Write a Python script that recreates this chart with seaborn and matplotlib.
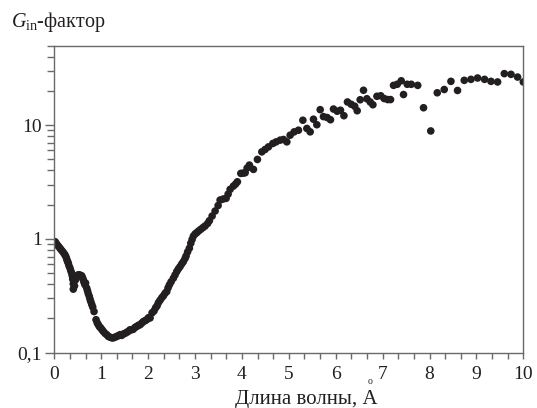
import matplotlib
matplotlib.use("Agg")
import matplotlib.pyplot as plt
import seaborn as sns
import pandas as pd
from matplotlib.ticker import MultipleLocator, LogLocator, FixedLocator, FuncFormatter, NullFormatter

# ---- data ----
wavelength = [
    0.015, 0.036, 0.064, 0.09, 0.122, 0.149, 0.179, 0.207, 0.228, 0.25,
    0.265, 0.282, 0.299, 0.314, 0.335, 0.352, 0.371, 0.384, 0.393, 0.405,
    0.405, 0.431, 0.452, 0.478, 0.506, 0.533, 0.559, 0.585, 0.602, 0.619,
    0.634, 0.655, 0.666, 0.691, 0.708, 0.725, 0.747, 0.762, 0.777, 0.798,
    0.819, 0.847,
    0.89, 0.915, 0.939, 0.964, 0.99, 1.018, 1.045, 1.082, 1.118, 1.152,
    1.188, 1.225, 1.259, 1.295, 1.331, 1.366, 1.402, 1.438, 1.472, 1.508,
    1.545, 1.579, 1.615, 1.651, 1.686, 1.722, 1.758, 1.792, 1.828, 1.865,
    1.899, 1.935, 1.971, 2.006, 2.042, 2.084, 2.127, 2.159, 2.191, 2.219,
    2.255, 2.291, 2.326, 2.362, 2.398, 2.426, 2.454, 2.49, 2.539, 2.575,
    2.611, 2.646, 2.682, 2.718, 2.752, 2.789, 2.81, 2.842, 2.88, 2.91,
    2.938, 2.966, 3.002, 3.038, 3.077, 3.124, 3.173, 3.215, 3.269, 3.307,
    3.365, 3.429, 3.493, 3.535, 3.599, 3.663, 3.706, 3.749, 3.819, 3.866,
    3.904, 3.977, 4.026, 4.069, 4.111, 4.16, 4.246, 4.331, 4.425, 4.495,
    4.566, 4.66, 4.73, 4.815, 4.886, 4.958, 5.029, 5.114, 5.206, 5.30,
    5.385, 5.456, 5.526, 5.598, 5.669, 5.739, 5.818, 5.889, 5.953, 6.032,
    6.102, 6.175, 6.251, 6.33, 6.405, 6.458, 6.522, 6.593, 6.665, 6.736,
    6.793, 6.879, 6.96, 7.034, 7.109, 7.169, 7.233, 7.312, 7.397, 7.446,
    7.525, 7.611, 7.749, 7.873, 8.027, 8.165, 8.314, 8.457, 8.598, 8.741,
    8.884, 9.025, 9.174, 9.311, 9.452, 9.595, 9.738, 9.878, 10.0,
]
gin_factor = [
    0.947, 0.92, 0.886, 0.86, 0.829, 0.80, 0.774, 0.746, 0.724, 0.695,
    0.664, 0.635, 0.612, 0.58, 0.553, 0.524, 0.50, 0.474, 0.443, 0.403,
    0.362, 0.387, 0.437, 0.467, 0.483, 0.483, 0.479, 0.474, 0.455, 0.437,
    0.415, 0.395, 0.41, 0.37, 0.35, 0.33, 0.312, 0.295, 0.282, 0.266,
    0.252, 0.230,
    0.195, 0.183, 0.176, 0.169, 0.165, 0.159, 0.154, 0.148, 0.144, 0.139,
    0.137, 0.135, 0.135, 0.137, 0.139, 0.141, 0.144, 0.142, 0.146, 0.148,
    0.151, 0.154, 0.159, 0.159, 0.161, 0.167, 0.170, 0.174, 0.176, 0.182,
    0.188, 0.191, 0.195, 0.203, 0.202, 0.224, 0.233, 0.248, 0.258, 0.275,
    0.289, 0.304, 0.316, 0.333, 0.345, 0.372, 0.395, 0.42, 0.452, 0.483,
    0.517, 0.546, 0.572, 0.604, 0.632, 0.675, 0.709, 0.769, 0.829, 0.917,
    0.99, 1.06, 1.106, 1.136, 1.175, 1.216, 1.261, 1.30, 1.368, 1.447,
    1.59, 1.761, 1.967, 2.198, 2.243, 2.275, 2.48, 2.73, 2.917, 3.04,
    3.18, 3.77, 3.79, 3.82, 4.2, 4.46, 4.09, 5.0, 5.83, 6.12,
    6.45, 6.91, 7.14, 7.39, 7.49, 7.14, 8.17, 8.74, 9.04, 11.06,
    9.36, 8.74, 11.29, 10.1, 13.7, 11.9, 11.68, 11.17, 13.87, 13.27,
    13.54, 12.12, 16.0, 15.28, 14.68, 13.4, 16.74, 20.28, 17.08, 16.0,
    15.13, 17.96, 18.15, 17.15, 16.8, 16.8, 22.4, 22.9, 24.56, 18.6,
    22.9, 22.9, 22.4, 14.24, 8.9, 19.28, 20.6, 24.3, 20.2, 24.8,
    25.3, 26.0, 25.3, 24.3, 24.0, 28.4, 28.0, 26.5, 24.0,
]
y_major_ticks = [0.1, 1, 10]
y_tick_labels = ["0,1", "1", "10"]
x_major_ticks = [0, 1, 2, 3, 4, 5, 6, 7, 8, 9, 10]
x_label = "Длина волны, А"
y_label = r"$G_{\mathrm{in}}$-фактор"

df = pd.DataFrame({"wavelength": wavelength, "gin": gin_factor})

sns.set_style("ticks")
plt.rcParams["font.family"] = ["Liberation Serif", "DejaVu Serif"]
plt.rcParams["mathtext.fontset"] = "custom"
plt.rcParams["mathtext.rm"] = "Liberation Serif"
plt.rcParams["mathtext.it"] = "Liberation Serif:italic"

fig = plt.figure(figsize=(5.37, 4.08), dpi=100)
ax = fig.add_axes([54.3 / 537, 1 - 352.7 / 408, (523.3 - 54.3) / 537, (352.7 - 45.7) / 408])

sns.scatterplot(data=df, x="wavelength", y="gin", ax=ax, s=30,
                color="#231f20", edgecolor="none", linewidth=0, legend=False, clip_on=True)

ax.set_yscale("log")
ax.set_xlim(0, 10)
ax.set_ylim(0.1, 50)

spine_col = "#6a6a6a"
for sp in ax.spines.values():
    sp.set_color(spine_col)
    sp.set_linewidth(1.0)
    sp.set_visible(True)

ax.xaxis.set_major_locator(FixedLocator(x_major_ticks))
ax.xaxis.set_minor_locator(MultipleLocator(1 / 3))
ax.yaxis.set_major_locator(FixedLocator(y_major_ticks))
ax.yaxis.set_major_formatter(FuncFormatter(lambda v, p: y_tick_labels[y_major_ticks.index(v)] if v in y_major_ticks else ""))
ax.yaxis.set_minor_locator(LogLocator(base=10, subs=[2, 3, 4, 5, 6, 7, 8, 9]))
ax.yaxis.set_minor_formatter(NullFormatter())

ax.tick_params(axis="x", which="both", direction="out", length=4, width=1.0,
               color=spine_col, top=False, labelsize=14, pad=5.5, labelcolor="#231f20")
ax.tick_params(axis="y", which="major", direction="out", length=6.5, width=1.0,
               color=spine_col, right=False, labelsize=14, pad=2.5, labelcolor="#231f20")
ax.tick_params(axis="y", which="minor", direction="out", length=5, width=1.0,
               color=spine_col, right=False)

ax.set_xlabel("")
ax.set_ylabel("")
fig.text(306 / 537, 4 / 408, x_label, ha="center", va="baseline", fontsize=15, color="#231f20")
fig.text(370 / 537, 1 - 382 / 408, "o", ha="center", va="center", fontsize=7, color="#231f20")
fig.text(11 / 537, 1 - 26.7 / 408, y_label, ha="left", va="baseline", fontsize=14.5, color="#231f20")

fig.savefig("out.png", dpi=100)
